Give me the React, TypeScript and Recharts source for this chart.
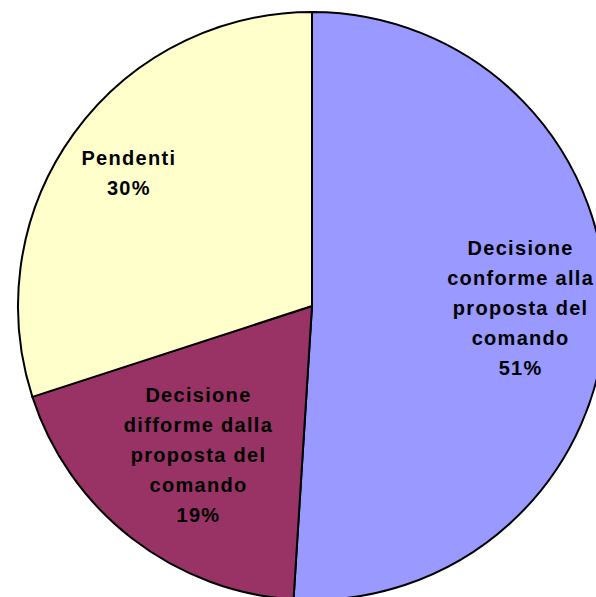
import { Cell, Pie, PieChart } from "recharts";

const categories = [
  "Decisione conforme alla proposta del comando",
  "Decisione difforme dalla proposta del comando",
  "Pendenti",
];
const values = [51, 19, 30];
const labelLines = [
  ["Decisione", "conforme alla", "proposta del", "comando"],
  ["Decisione", "difforme dalla", "proposta del", "comando"],
  ["Pendenti"],
];
const colors = ["#9999FF", "#993366", "#FFFFCC"];

const data = categories.map((name, i) => ({ name, value: values[i] }));

const RAD = Math.PI / 180;
// how far out each label sits, as a share of the radius, plus a small nudge
const labelRadius = [0.71, 0.63, 0.77];
const labelNudge = [-5, 3, 0];
const LINE_H = 30;

function renderLabel(props: any) {
  const { cx, cy, midAngle, outerRadius, index, value } = props;
  const r = outerRadius * labelRadius[index];
  const x = cx + r * Math.cos(-midAngle * RAD);
  const y = cy + r * Math.sin(-midAngle * RAD) + labelNudge[index];
  const lines = [...labelLines[index], `${value}%`];
  const top = y - ((lines.length - 1) * LINE_H) / 2;
  return (
    <text
      x={x}
      y={top}
      textAnchor="middle"
      dominantBaseline="central"
      fill="#000"
      fontFamily="'Liberation Sans', Arial, sans-serif"
      fontWeight="bold"
      fontSize={20}
      letterSpacing={1.3}
    >
      {lines.map((l, i) => (
        <tspan key={i} x={x} y={top + i * LINE_H}>
          {l}
        </tspan>
      ))}
    </text>
  );
}

export default function App() {
  return (
    <div style={{ position: "fixed", left: 0, top: 0, width: 596, height: 597, overflow: "hidden", background: "#fff" }}>
      <PieChart width={596} height={597} margin={{ top: 0, right: 0, bottom: 0, left: 0 }}>
        <Pie
          data={data}
          dataKey="value"
          nameKey="name"
          cx={312}
          cy={306}
          outerRadius={294}
          startAngle={90}
          endAngle={-270}
          stroke="#000"
          strokeWidth={2}
          label={renderLabel}
          labelLine={false}
          isAnimationActive={false}
        >
          {data.map((d, i) => (
            <Cell key={d.name} fill={colors[i]} />
          ))}
        </Pie>
      </PieChart>
    </div>
  );
}
